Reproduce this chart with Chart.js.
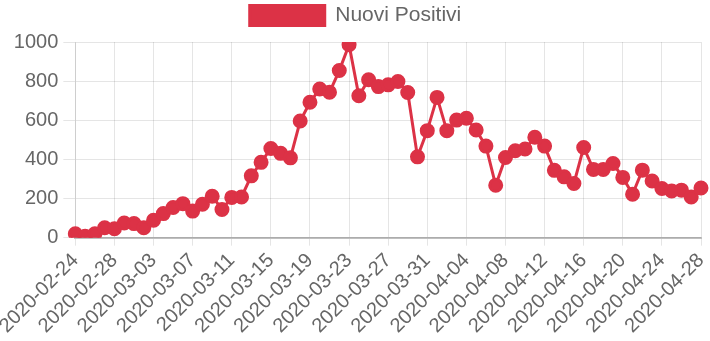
<!DOCTYPE html>
<html>
<head>
<meta charset="utf-8">
<script src="https://cdn.jsdelivr.net/npm/chart.js@4/dist/chart.umd.min.js"></script>
<style>
  html, body { margin: 0; padding: 0; background: #fff; }
  #wrap { width: 710px; height: 341px; }
</style>
</head>
<body>
<div id="wrap"><canvas id="line_chart" width="710" height="341"></canvas></div>
<script>
// dates 2020-02-24 .. 2020-04-28
var dates = [
    '2020-02-24', '2020-02-25', '2020-02-26', '2020-02-27', '2020-02-28', '2020-02-29',
    '2020-03-01', '2020-03-02', '2020-03-03', '2020-03-04', '2020-03-05', '2020-03-06',
    '2020-03-07', '2020-03-08', '2020-03-09', '2020-03-10', '2020-03-11', '2020-03-12',
    '2020-03-13', '2020-03-14', '2020-03-15', '2020-03-16', '2020-03-17', '2020-03-18',
    '2020-03-19', '2020-03-20', '2020-03-21', '2020-03-22', '2020-03-23', '2020-03-24',
    '2020-03-25', '2020-03-26', '2020-03-27', '2020-03-28', '2020-03-29', '2020-03-30',
    '2020-03-31', '2020-04-01', '2020-04-02', '2020-04-03', '2020-04-04', '2020-04-05',
    '2020-04-06', '2020-04-07', '2020-04-08', '2020-04-09', '2020-04-10', '2020-04-11',
    '2020-04-12', '2020-04-13', '2020-04-14', '2020-04-15', '2020-04-16', '2020-04-17',
    '2020-04-18', '2020-04-19', '2020-04-20', '2020-04-21', '2020-04-22', '2020-04-23',
    '2020-04-24', '2020-04-25', '2020-04-26', '2020-04-27', '2020-04-28'
];

var nuoviPositivi = [
    20, 7, 20, 51, 46, 75, 72, 51, 89, 123, 154, 174, 136, 171, 212, 144,
    206, 208, 316, 385, 456, 431, 408, 596, 692, 760, 743, 854, 986, 725,
    807, 772, 781, 798, 742, 413, 547, 717, 547, 601, 610, 550, 468, 268,
    410, 444, 453, 513, 468, 344, 311, 277, 461, 349, 349, 379, 308, 222,
    345, 290, 251, 239, 243, 208, 254
];

var yTicks = [0, 200, 400, 600, 800, 1000];

var red = 'rgb(220, 50, 70)';
Chart.defaults.font.family = '"Liberation Sans", Arial, sans-serif';
Chart.defaults.color = '#666';

// extra space under the legend
var legendGap = {
    id: 'legendGap',
    beforeInit: function (chart) {
        var fit = chart.legend.fit;
        chart.legend.fit = function () {
            fit.bind(chart.legend)();
            this.height += 6;
        };
    }
};

var ctx = document.getElementById('line_chart').getContext('2d');
var myChart = new Chart(ctx, {
    type: 'line',
    data: {
        labels: dates,
        datasets: [{
            label: 'Nuovi Positivi',
            data: nuoviPositivi,
            fill: false,
            borderColor: red,
            backgroundColor: red,
            borderWidth: 3,
            pointRadius: 6,
            pointBackgroundColor: red,
            pointBorderColor: red,
            tension: 0
        }]
    },
    plugins: [legendGap],
    options: {
        responsive: false,
        animation: false,
        layout: { padding: { right: 0, left: 1, bottom: 0 } },
        plugins: {
            legend: {
                position: 'top',
                labels: {
                    boxWidth: 75,
                    boxHeight: 20,
                    padding: 5,
                    font: { size: 21 }
                }
            },
            tooltip: { enabled: false }
        },
        scales: {
            x: {
                grid: { color: 'rgba(0,0,0,0.1)', tickLength: 8 },
                border: { color: 'rgba(0,0,0,0.25)', width: 2 },
                afterFit: function (scale) {
                    scale.paddingRight = 9;
                },
                ticks: {
                    autoSkip: false,
                    maxRotation: 45,
                    minRotation: 45,
                    font: { size: 20 },
                    callback: function (val, i) {
                        return i % 4 === 0 ? dates[i] : null;
                    }
                }
            },
            y: {
                min: yTicks[0],
                max: yTicks[yTicks.length - 1],
                grid: { color: 'rgba(0,0,0,0.1)', tickLength: 12 },
                border: { color: 'rgba(0,0,0,0.1)' },
                afterBuildTicks: function (axis) {
                    axis.ticks = yTicks.map(function (v) { return { value: v }; });
                },
                ticks: {
                    font: { size: 20 },
                    padding: 5,
                    callback: function (v) { return String(v); }
                }
            }
        }
    }
});
</script>
</body>
</html>
